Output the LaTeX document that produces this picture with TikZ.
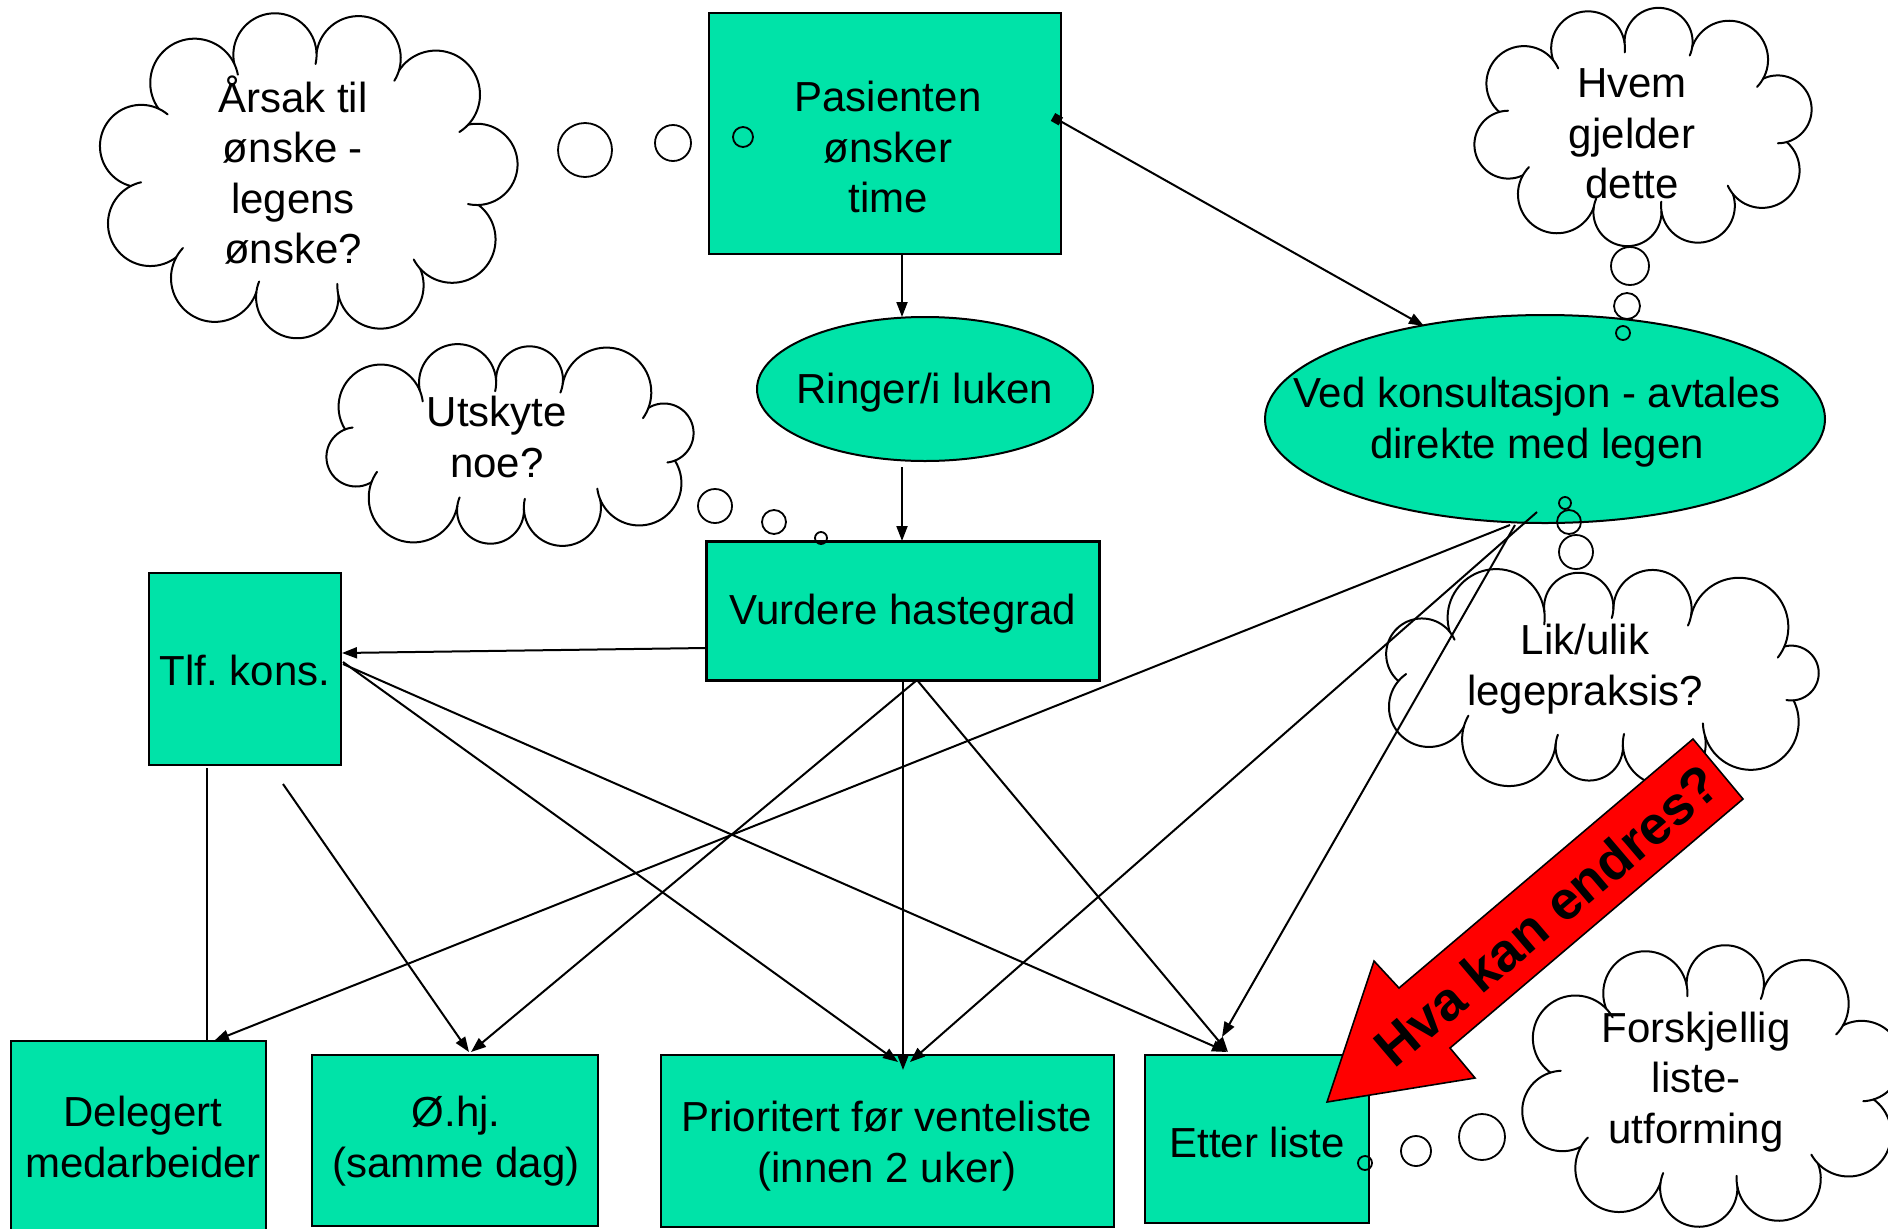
\documentclass[tikz,border=0pt]{standalone}
\usepackage{fontspec}
\setmainfont{Liberation Sans}
\frenchspacing
\usetikzlibrary{shapes.geometric,arrows.meta}
\definecolor{boxgreen}{RGB}{0,227,168}
\definecolor{arrowred}{RGB}{255,0,0}
\def\puffarc{190}
\def\stubarc{15}
% #1 cx, #2 cy, #3 a, #4 b, #5 puffs, #6 start angle, #7 spacing correction
\newcommand{\puffcloud}[7]{%
  \foreach \pk in {1,...,#5}{%
    \pgfmathsetmacro{\tA}{(#6)+360*(\pk-1)/(#5)}%
    \pgfmathsetmacro{\tB}{(#6)+360*(\pk)/(#5)}%
    \pgfmathsetmacro{\aA}{(\tA)+(#7)*sin(2*(\tA))}%
    \pgfmathsetmacro{\aB}{(\tB)+(#7)*sin(2*(\tB))}%
    \pgfmathsetmacro{\xA}{(#1)+(#3)*cos(\aA)}%
    \pgfmathsetmacro{\yA}{(#2)+(#4)*sin(\aA)}%
    \pgfmathsetmacro{\xB}{(#1)+(#3)*cos(\aB)}%
    \pgfmathsetmacro{\yB}{(#2)+(#4)*sin(\aB)}%
    \pgfmathsetmacro{\Lc}{veclen((\xB)-(\xA),(\yB)-(\yA))}%
    \pgfmathsetmacro{\ebx}{((\xB)-(\xA))/(\Lc)}%
    \pgfmathsetmacro{\eby}{((\yB)-(\yA))/(\Lc)}%
    \pgfmathsetmacro{\mx}{((\xA)+(\xB))/2}%
    \pgfmathsetmacro{\my}{((\yA)+(\yB))/2}%
    \pgfmathsetmacro{\sg}{ifthenelse((\eby)*((\mx)-(#1))-(\ebx)*((\my)-(#2))>0,1,-1)}%
    \pgfmathsetmacro{\eax}{(\sg)*(\eby)}%
    \pgfmathsetmacro{\eay}{-1*(\sg)*(\ebx)}%
    \pgfmathsetmacro{\rr}{(\Lc)/(2*sin(\puffarc/2))}%
    \pgfmathsetmacro{\hh}{(\rr)*cos(\puffarc/2)}%
    \pgfmathsetmacro{\pcx}{(\mx)-(\hh)*(\eax)}%
    \pgfmathsetmacro{\pcy}{(\my)-(\hh)*(\eay)}%
    \pgfmathsetmacro{\dA}{-\puffarc/2}%
    \pgfmathsetmacro{\dB}{\puffarc/2+\stubarc}%
    \draw[cloudline] plot[domain=\dA:\dB, samples=44, variable=\pv]
      ({(\pcx)+(\rr)*(cos(\pv)*(\eax)+sin(\pv)*(\ebx))},{(\pcy)+(\rr)*(cos(\pv)*(\eay)+sin(\pv)*(\eby))});
  }%
}
\begin{document}
\begin{tikzpicture}[x=1pt,y=-1pt,
  txt/.style={font=\fontsize{42}{50.5}\selectfont, align=center, inner sep=0pt},
  gbox/.style={draw=black, line width=2.4pt, fill=boxgreen, rectangle, inner sep=0pt},
  gell/.style={draw=black, line width=2pt, fill=boxgreen, ellipse, inner sep=0pt},
  cloudline/.style={draw=black, line width=2pt, line cap=round, line join=round},
  bub/.style={draw=black, line width=1.8pt, circle, inner sep=0pt},
  conn/.style={draw=black, line width=2pt, -{Triangle[length=15pt,width=11pt]}},
  plainline/.style={draw=black, line width=2pt},
]
\useasboundingbox (0,0) rectangle (1888,1229);

% thought clouds
\coordinate (cArsak) at (308,174);
\coordinate (cHvem) at (1643,126);
\coordinate (cUtsk) at (510,445);
\coordinate (cLik) at (1602,676);
\coordinate (cForsk) at (1718,1086);
\puffcloud{307}{175}{177}{122}{11}{12}{5.5}
\puffcloud{1643}{127}{146}{85}{10}{8}{8}
\puffcloud{510}{445}{170}{64}{10}{10}{12}
\puffcloud{1602}{677}{204}{68}{11}{14}{13}
\puffcloud{1712}{1086}{163}{102}{10}{6}{7.5}

\node[txt] (tArsak) at (293,170) {Årsak til\\ønske -\\legens\\ønske?};
\node[txt] (tHvem) at (1632,134) {Hvem\\gjelder\\dette};
\node[txt] (tUtsk) at (497,437) {Utskyte\\noe?};
\node[txt] (tLik) at (1585,669) {Lik/ulik\\legepraksis?};
\node[txt] (tForsk) at (1696,1082) {Forskjellig\\liste-\\utforming};

% boxes and ellipses
\node[gbox, minimum width=352pt, minimum height=241pt] (pas) at (885,133.5) {};
\node[gell, minimum width=336pt, minimum height=144pt] (ring) at (925,389) {};
\node[gbox, minimum width=393pt, minimum height=139pt] (vur) at (903,611) {};
\node[gbox, minimum width=192pt, minimum height=192pt] (tlf) at (245,669) {};
\node[gell, minimum width=560pt, minimum height=208pt] (ved) at (1545,419) {};
\node[gbox, minimum width=255pt, minimum height=199pt] (del) at (138.5,1140.5) {};
\node[gbox, minimum width=286pt, minimum height=171pt] (ohj) at (455,1140.5) {};
\node[gbox, minimum width=453pt, minimum height=172pt] (pri) at (887.5,1141) {};
\node[gbox, minimum width=224pt, minimum height=168pt] (ett) at (1257,1139) {};

\node[txt] (pasT) at (888,147) {Pasienten\\ønsker\\time};
\node[txt] (ringT) at (925,393) {Ringer/i luken};
\node[txt] (vurT) at (903,614) {Vurdere hastegrad};
\node[txt] (tlfT) at (245,670) {Tlf. kons.};
\node[txt] (vedT) at (1537,422) {Ved konsultasjon - avtales\\direkte med legen};
\node[txt] (delT) at (143,1137) {Delegert\\medarbeider};
\node[txt] (ohjT) at (456,1141) {Ø.hj.\\(samme dag)};
\node[txt] (priT) at (887,1146) {Prioritert før venteliste\\(innen 2 uker)};
\node[txt] (ettT) at (1257,1142) {Etter liste};

% connector end points
\coordinate (pasS) at (902,254);
\coordinate (ringN) at (902,317);
\coordinate (ringS) at (902,467);
\coordinate (vurN) at (902,541);
\coordinate (pasE) at (1053,117);
\coordinate (vedN) at (1424,326);
\coordinate (vurW) at (706,648);
\coordinate (tlfE) at (342,653);
\coordinate (vurS) at (903,680);
\coordinate (vurS2) at (917,680);
\coordinate (priN) at (903,1070);
\coordinate (ohjN) at (471,1052);
\coordinate (ettN) at (1228,1052);
\coordinate (tlfE2) at (343,662);
\coordinate (tlfE3) at (343,664);
\coordinate (priN2) at (898,1062);
\coordinate (ettN2) at (1227,1052);
\coordinate (tlfS) at (207,768);
\coordinate (delN) at (207,1041);
\coordinate (tlfFree) at (283,784);
\coordinate (ohjN2) at (469,1052);
\coordinate (vedS1) at (1510,525);
\coordinate (delN2) at (214,1041);
\coordinate (vedS2) at (1537,512);
\coordinate (priN3) at (910,1062);
\coordinate (vedS3) at (1515,525);
\coordinate (ettN3) at (1222,1037);

\draw[conn] (pasS) -- (ringN);
\draw[conn] (ringS) -- (vurN);
\draw[draw=black, line width=2pt, {Square[length=9pt,width=9pt]}-{Triangle[length=15pt,width=11pt]}] (pasE) -- (vedN);
\draw[conn] (vurW) -- (tlfE);
\draw[conn] (vurS) -- (priN);
\draw[conn] (vurS2) -- (ohjN);
\draw[conn] (vurS2) -- (ettN);
\draw[conn] (tlfE2) -- (priN2);
\draw[conn] (tlfE3) -- (ettN2);
\draw[plainline] (tlfS) -- (delN);
\draw[conn] (tlfFree) -- (ohjN2);
\draw[conn] (vedS1) -- (delN2);
\draw[conn] (vedS2) -- (priN3);
\draw[conn] (vedS3) -- (ettN3);

% thought bubbles
\node[bub, minimum size=54pt] (bA1) at (585,150) {};
\node[bub, minimum size=36pt] (bA2) at (673,143) {};
\node[bub, minimum size=20pt] (bA3) at (743,137) {};
\node[bub, minimum size=38pt] (bH1) at (1630,266) {};
\node[bub, minimum size=26pt] (bH2) at (1627,306) {};
\node[bub, minimum size=14pt] (bH3) at (1623,333) {};
\node[bub, minimum size=34pt] (bU1) at (715,506) {};
\node[bub, minimum size=24pt] (bU2) at (774,522) {};
\node[bub, minimum size=12pt] (bU3) at (821,538) {};
\node[bub, minimum size=34pt] (bL1) at (1576,552) {};
\node[bub, minimum size=24pt] (bL2) at (1569,522) {};
\node[bub, minimum size=12pt] (bL3) at (1565,503) {};
\node[bub, minimum size=46pt] (bF1) at (1482,1137) {};
\node[bub, minimum size=30pt] (bF2) at (1416,1151) {};
\node[bub, minimum size=14pt] (bF3) at (1365,1163) {};

% red block arrow
\draw[fill=arrowred, draw=black, line width=1.6pt, line join=miter]
  (1327,1102) -- (1374,961) -- (1399,988) -- (1693,739) -- (1743,799)
  -- (1450,1048) -- (1475,1078) -- cycle;
\node[font=\fontsize{54}{60}\selectfont\bfseries, inner sep=0pt, rotate=40.4] (hva) at (1547,915) {Hva kan endres?};
\end{tikzpicture}
\end{document}
